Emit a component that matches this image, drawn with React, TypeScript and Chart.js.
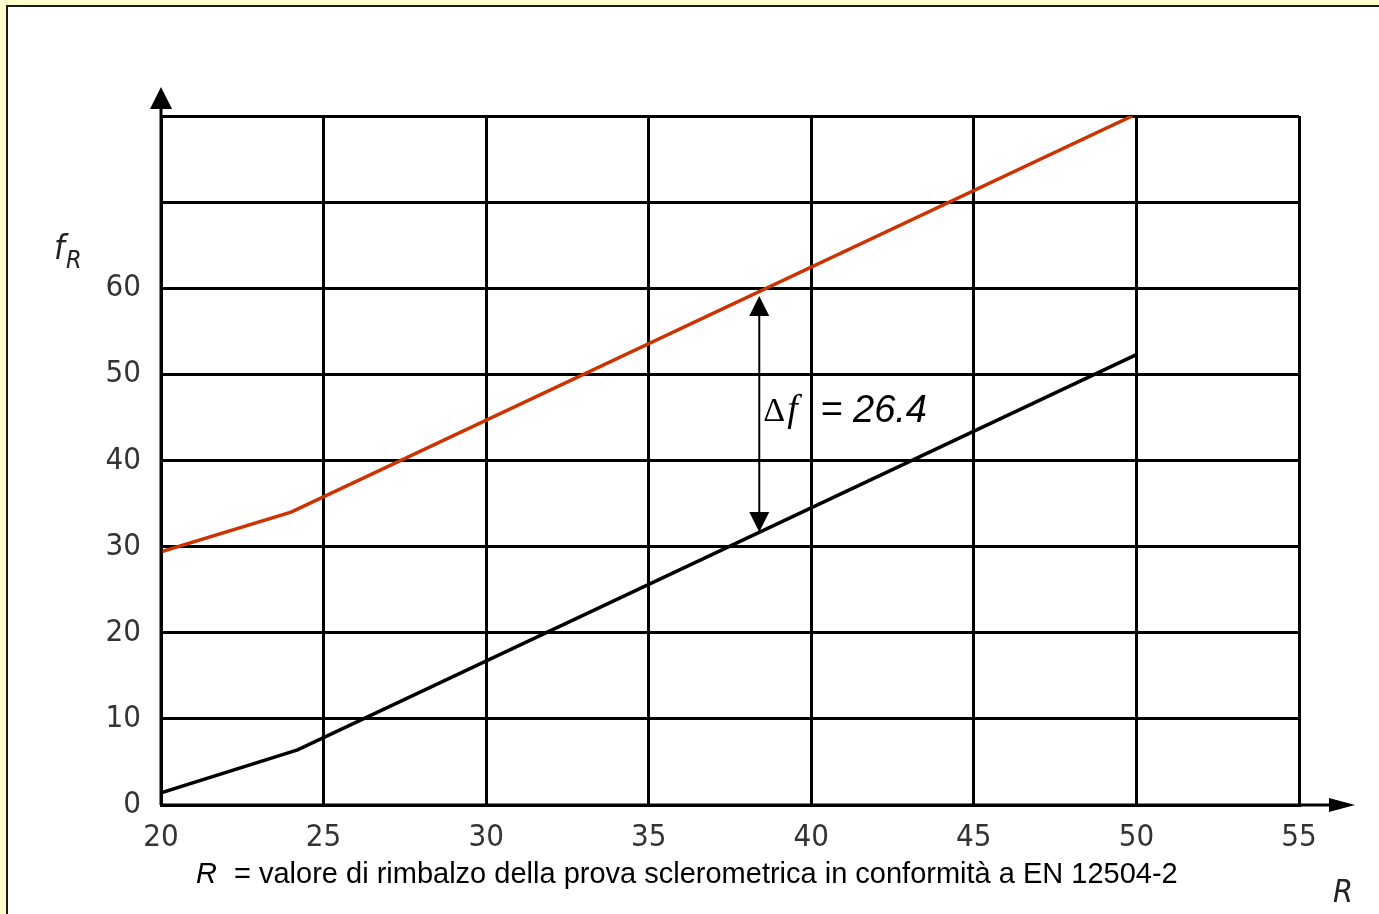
import React, { useEffect, useRef } from "react";
import { Chart, registerables } from "chart.js";

Chart.register(...registerables);

// ---- data ----
const upperR = [20, 24, 49.87];
const upperF = [29.4, 34.0, 80.0];
const lowerR = [20, 24.2, 50];
const lowerF = [1.4, 6.4, 52.3];
const xTickValues = [20, 25, 30, 35, 40, 45, 50, 55];
const yTickValues = [0, 10, 20, 30, 40, 50, 60, 70, 80];
const yLabelMax = 60;
const deltaR = 38.4;
const deltaTop = 59.1;
const deltaBottom = 31.7;
const deltaText = "= 26.4";
const captionSymbol = "R";
const captionText = "= valore di rimbalzo della prova sclerometrica in conformità a EN 12504-2";
const yAxisTitle = "f";
const yAxisSub = "R";
const xAxisTitle = "R";

const W = 1379;
const H = 914;
const ISO = "'DejaVu Sans Condensed', 'Liberation Sans', sans-serif";
const SANS = "'Liberation Sans', Arial, sans-serif";
const SERIF = "'Liberation Serif', 'Times New Roman', serif";

const decorPlugin = {
  id: "decor",
  beforeDraw(chart: any) {
    const ctx = chart.ctx;
    ctx.save();
    ctx.fillStyle = "#FFFFCC";
    ctx.fillRect(0, 0, W, H);
    ctx.fillStyle = "#FFFFFF";
    ctx.fillRect(8, 6, W - 8, H - 6);
    ctx.fillStyle = "#1a1a1a";
    ctx.fillRect(6, 5, 2, H - 5);
    ctx.fillRect(6, 5, W - 6, 2);
    ctx.restore();
  },
  afterDraw(chart: any) {
    const ctx = chart.ctx;
    const xs = chart.scales.x;
    const ys = chart.scales.y;
    const area = chart.chartArea;
    ctx.save();
    ctx.strokeStyle = "#000";
    ctx.fillStyle = "#000";
    ctx.lineWidth = 3;
    // y axis extension + arrow
    ctx.beginPath();
    ctx.moveTo(area.left, area.bottom);
    ctx.lineTo(area.left, 106);
    ctx.stroke();
    ctx.beginPath();
    ctx.moveTo(area.left, 87);
    ctx.lineTo(area.left - 11, 109);
    ctx.lineTo(area.left + 11, 109);
    ctx.closePath();
    ctx.fill();
    // x axis extension + arrow
    ctx.beginPath();
    ctx.moveTo(area.left, area.bottom);
    ctx.lineTo(1332, area.bottom);
    ctx.stroke();
    ctx.beginPath();
    ctx.moveTo(1355, area.bottom);
    ctx.lineTo(1329, area.bottom - 7);
    ctx.lineTo(1329, area.bottom + 7);
    ctx.closePath();
    ctx.fill();

    // delta arrow
    const ax = xs.getPixelForValue(deltaR);
    const at = ys.getPixelForValue(deltaTop);
    const ab = ys.getPixelForValue(deltaBottom);
    ctx.lineWidth = 2;
    ctx.beginPath();
    ctx.moveTo(ax, at + 15);
    ctx.lineTo(ax, ab - 15);
    ctx.stroke();
    ctx.beginPath();
    ctx.moveTo(ax, at);
    ctx.lineTo(ax - 10, at + 20);
    ctx.lineTo(ax + 10, at + 20);
    ctx.closePath();
    ctx.fill();
    ctx.beginPath();
    ctx.moveTo(ax, ab);
    ctx.lineTo(ax - 10, ab - 20);
    ctx.lineTo(ax + 10, ab - 20);
    ctx.closePath();
    ctx.fill();

    ctx.textBaseline = "alphabetic";
    ctx.textAlign = "left";
    ctx.font = `34px ${SERIF}`;
    ctx.fillText("\u0394", ax + 4, 421);
    ctx.font = `italic 38px ${SERIF}`;
    ctx.fillText("f", ax + 28, 421);
    ctx.font = `italic 38px ${SANS}`;
    ctx.fillText(deltaText, ax + 61, 422);

    // axis titles
    ctx.fillStyle = "#222";
    ctx.font = `italic 34px ${ISO}`;
    ctx.fillText(yAxisTitle, 54, 259);
    ctx.font = `italic 25px ${ISO}`;
    ctx.fillText(yAxisSub, 66, 268);
    ctx.font = `italic 32px ${ISO}`;
    ctx.fillText(xAxisTitle, 1333, 902);

    // caption
    ctx.fillStyle = "#000";
    ctx.font = `italic 29px ${SANS}`;
    ctx.fillText(captionSymbol, 196, 883);
    ctx.font = `29px ${SANS}`;
    ctx.fillText(captionText, 234, 883);
    ctx.restore();
  },
};

export default function App() {
  const ref = useRef<HTMLCanvasElement | null>(null);
  useEffect(() => {
    if (!ref.current) return;
    const chart = new Chart(ref.current, {
      type: "line",
      data: {
        datasets: [
          {
            data: upperR.map((r, i) => ({ x: r, y: upperF[i] })),
            borderColor: "#CC3300",
            borderWidth: 3.5,
            pointRadius: 0,
            tension: 0,
          },
          {
            data: lowerR.map((r, i) => ({ x: r, y: lowerF[i] })),
            borderColor: "#000000",
            borderWidth: 3.5,
            pointRadius: 0,
            tension: 0,
          },
        ],
      },
      options: {
        animation: false,
        responsive: false,
        devicePixelRatio: 1,
        layout: { padding: { left: 0, top: 116, right: W - 1299, bottom: 0 } },
        plugins: { legend: { display: false }, tooltip: { enabled: false } },
        scales: {
          x: {
            type: "linear",
            min: 20,
            max: 55,
            afterBuildTicks: (s: any) => {
              s.ticks = xTickValues.map((v) => ({ value: v }));
            },
            afterFit: (s: any) => {
              s.height = H - 805;
            },
            grid: { color: "#000", lineWidth: 3, drawTicks: false },
            border: { display: true, color: "#000", width: 3 },
            ticks: {
              font: { family: ISO, size: 31 },
              color: "#333",
              padding: 14,
              maxRotation: 0,
              autoSkip: false,
            },
          },
          y: {
            type: "linear",
            min: 0,
            max: 80,
            afterBuildTicks: (s: any) => {
              s.ticks = yTickValues.map((v) => ({ value: v }));
            },
            afterFit: (s: any) => {
              s.width = 161;
            },
            grid: { color: "#000", lineWidth: 3, drawTicks: false },
            border: { display: true, color: "#000", width: 3 },
            ticks: {
              font: { family: ISO, size: 31 },
              color: "#333",
              padding: 20,
              autoSkip: false,
              callback: (v: any) => (Number(v) <= yLabelMax ? String(v) : ""),
            },
          },
        },
      },
      plugins: [decorPlugin],
    });
    return () => chart.destroy();
  }, []);
  return (
    <div style={{ position: "absolute", left: 0, top: 0, width: W, height: H }}>
      <canvas ref={ref} width={W} height={H} style={{ display: "block" }} />
    </div>
  );
}
